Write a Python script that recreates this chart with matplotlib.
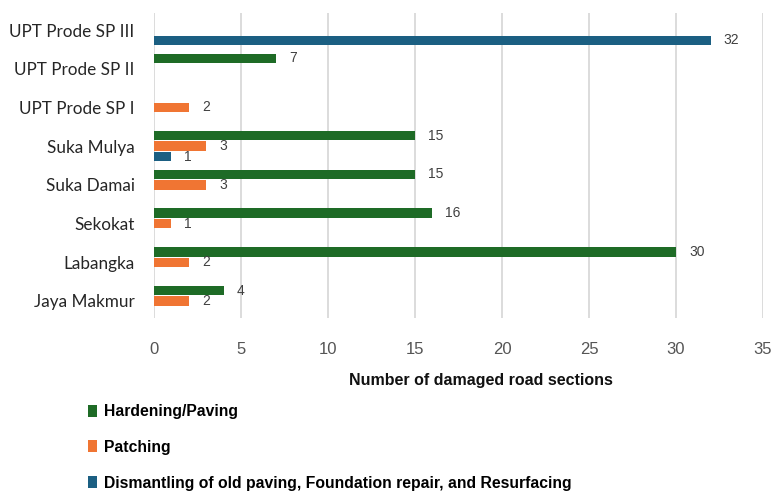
import matplotlib
matplotlib.use("Agg")
import matplotlib.pyplot as plt
import numpy as np
from matplotlib.patches import Patch

categories = ["UPT Prode SP III", "UPT Prode SP II", "UPT Prode SP I", "Suka Mulya",
              "Suka Damai", "Sekokat", "Labangka", "Jaya Makmur"]
hardening = [np.nan, 7, np.nan, 15, 15, 16, 30, 4]
patching = [np.nan, np.nan, 2, 3, 3, 1, 2, 2]
dismantling = [32, np.nan, np.nan, 1, np.nan, np.nan, np.nan, np.nan]
series_names = ["Hardening/Paving", "Patching",
                "Dismantling of old paving, Foundation repair, and Resurfacing"]
colors = ["#1E6B26", "#F07533", "#1B5F82"]
xticks = [0, 5, 10, 15, 20, 25, 30, 35]

fig = plt.figure(figsize=(7.72, 4.91), dpi=100)
ax = fig.add_axes([154/772, 1-318/491, 609/772, (318-13)/491])

y = np.arange(len(categories))
step = 0.27
h = 0.245
for k, (vals, c) in enumerate(zip([hardening, patching, dismantling], colors)):
    off = (k - 1) * step
    vals = np.array(vals, dtype=float)
    ax.barh(y + off, np.nan_to_num(vals), height=h, color=c, zorder=3)
    for yi, v in zip(y, vals):
        if not np.isnan(v):
            ax.text(v + 0.75, yi + off, f"{int(v)}", va="center", ha="left",
                    fontsize=10, color="#404040", family=["Liberation Sans", "DejaVu Sans"])

ax.set_xlim(0, 35)
ax.set_ylim(7.44, -0.44)
ax.set_yticks(y)
ax.set_yticklabels(categories, family=["Lato", "DejaVu Sans"], fontsize=12.3, color="#262626")
ax.set_xticks(xticks)
ax.set_xticklabels([str(t) for t in xticks], family=["Liberation Sans", "DejaVu Sans"],
                   fontsize=12, color="#555555")
ax.tick_params(axis="y", length=0, pad=14)
ax.tick_params(axis="x", length=0, pad=17)
ax.grid(axis="x", color="#D9D9D9", linewidth=1.3, zorder=0)
for s in ax.spines.values():
    s.set_visible(False)

fig.text(481/772, 1-381/491, "Number of damaged road sections", ha="center", va="center",
         fontsize=11.5, fontweight="bold", color="#111111",
         family=["Liberation Sans", "DejaVu Sans"])

handles = [Patch(facecolor=c, edgecolor="none") for c in colors]
fig.legend(handles, series_names, loc="upper left",
           bbox_to_anchor=(74/772, 1-390/491), frameon=False,
           handlelength=0.55, handleheight=0.8, handletextpad=0.45,
           labelspacing=1.32,
           prop={"family": ["Liberation Sans", "DejaVu Sans"],
                 "weight": "bold", "size": 11.3})

fig.savefig("out.png", dpi=100)
